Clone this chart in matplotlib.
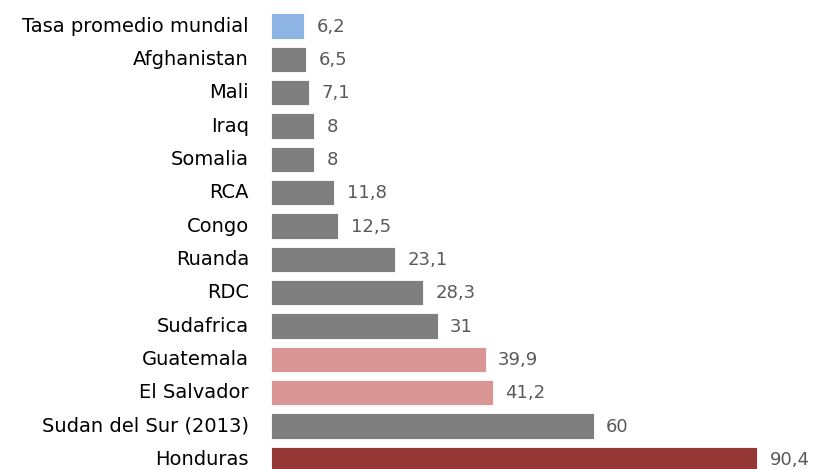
import matplotlib
matplotlib.use("Agg")
import matplotlib.pyplot as plt

categories = ["Tasa promedio mundial", "Afghanistan", "Mali", "Iraq", "Somalia", "RCA",
              "Congo", "Ruanda", "RDC", "Sudafrica", "Guatemala", "El Salvador",
              "Sudan del Sur (2013)", "Honduras"]
values = [6.2, 6.5, 7.1, 8, 8, 11.8, 12.5, 23.1, 28.3, 31, 39.9, 41.2, 60, 90.4]
value_labels = ["6,2", "6,5", "7,1", "8", "8", "11,8", "12,5", "23,1", "28,3", "31",
                "39,9", "41,2", "60", "90,4"]
colors = ["#8EB4E3"] + ["#7F7F7F"] * 9 + ["#D99694", "#D99694", "#7F7F7F", "#953735"]

plt.rcParams['font.family'] = ['DejaVu Sans']
fig = plt.figure(figsize=(8.13, 4.69), dpi=100)
ax = fig.add_axes([271/813, 0, 542/813, 1])
ypos = list(range(len(categories)))
ax.barh(ypos, values, height=0.76, color=colors, edgecolor="#FFFFFF", linewidth=0.6)
ax.set_ylim(13.29, -0.78)
ax.set_xlim(0, 100.8)
for y, v, lab in zip(ypos, values, value_labels):
    ax.text(v + 2.3, y + 0.02, lab, va="center", ha="left", fontsize=13, color="#595959")
for y, c in zip(ypos, categories):
    ax.text(-4.1, y, c, va="center", ha="right", fontsize=14, color="#000000",
            clip_on=False)
ax.set_xticks([])
ax.set_yticks([])
for s in ax.spines.values():
    s.set_visible(False)
fig.savefig("out.png", dpi=100)
